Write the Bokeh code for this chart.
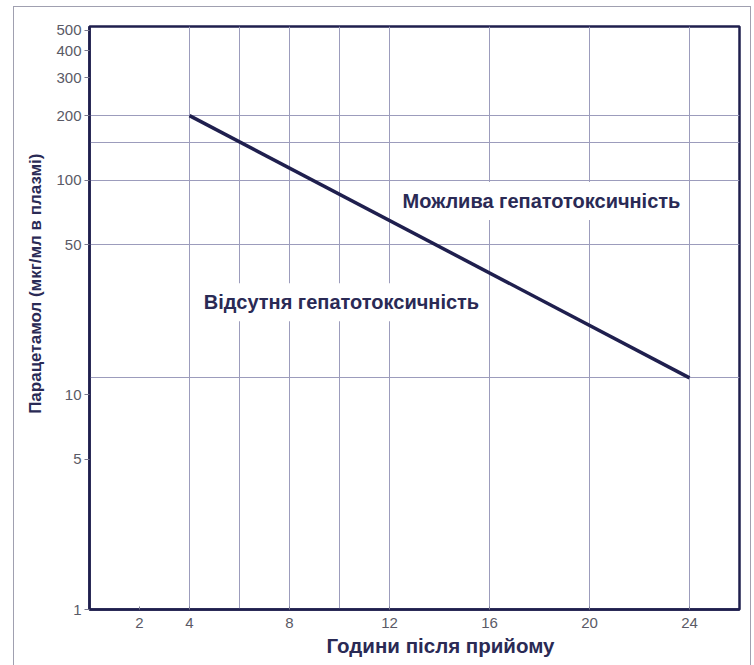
from bokeh.plotting import figure
from bokeh.models import FixedTicker, Label, Range1d, Title
from bokeh.embed import file_html
from bokeh.resources import INLINE

# ---- data ----
hours = [4, 24]                       # line start / end (hours after ingestion)
concentration = [200, 12]             # µg/mL at those times
x_ticks = [2, 4, 8, 12, 16, 20, 24]
y_ticks = [1, 5, 10, 50, 100, 200, 300, 400, 500]
x_grid = [4, 6, 8, 10, 12, 16, 20, 24]
y_grid = [12, 50, 100, 150, 200]
region_labels = ["Можлива гепатотоксичність", "Відсутня гепатотоксичність"]
x_title = "Години після прийому"
y_title = "Парацетамол (мкг/мл в плазмі)"

NAVY = "#1f1f4e"
GRID = "#9c9cbc"
TEXT = "#2a2a55"
TICK_TEXT = "#5a5a66"
FONT = "Liberation Sans"

p = figure(width=738, height=659, y_axis_type="log",
           x_range=Range1d(0, 26), y_range=Range1d(1, 520),
           output_backend="svg", toolbar_location=None,
           min_border_left=75, min_border_right=13,
           min_border_top=19, min_border_bottom=57)
p.styles = {"border-left": "1px solid #a0a0b0",
            "border-top": "1px solid #a0a0b0",
            "border-right": "1px solid #a0a0b0",
            "margin-left": "13px", "margin-top": "6px"}
p.background_fill_color = "white"
p.border_fill_color = "white"
p.outline_line_color = NAVY
p.outline_line_width = 2.5

# grid
p.xgrid.ticker = FixedTicker(ticks=x_grid)
p.ygrid.ticker = FixedTicker(ticks=y_grid)
for g in (p.xgrid, p.ygrid):
    g.grid_line_color = GRID
    g.grid_line_width = 1
    g.grid_line_alpha = 1.0
p.ygrid.minor_grid_line_color = None

# axes
p.xaxis.ticker = FixedTicker(ticks=x_ticks)
p.yaxis.ticker = FixedTicker(ticks=y_ticks, minor_ticks=[])
p.yaxis.major_label_overrides = {v: str(v) for v in y_ticks}
for ax in (p.xaxis, p.yaxis):
    ax.axis_line_color = NAVY
    ax.axis_line_width = 2.5
    ax.major_tick_line_color = "#7a7a90"
    ax.minor_tick_line_color = None
    ax.major_label_text_font = FONT
    ax.major_label_text_font_size = "15px"
    ax.major_label_text_color = TICK_TEXT
p.xaxis.major_tick_in = 3
p.xaxis.major_tick_out = 0
p.xaxis.major_label_standoff = 8
p.yaxis.major_tick_in = 0
p.yaxis.major_tick_out = 5
p.yaxis.major_label_standoff = 3

# x title below, shifted right like the reference
p.add_layout(Title(text=x_title, align="left", offset=237,
                   vertical_align="middle", standoff=4,
                   text_font=FONT, text_font_style="bold",
                   text_font_size="20.5px", text_color=TEXT), "below")

# y title as a left-side title, shifted upward like the reference
p.add_layout(Title(text=y_title, align="right", offset=127,
                   vertical_align="middle", standoff=16,
                   text_font=FONT, text_font_style="bold",
                   text_font_size="17px", text_color=TEXT), "left")

# main nomogram line
p.line(hours, concentration, line_color=NAVY, line_width=3.5)

# region labels with white boxes
label_pos = [(18.08, 80), (10.08, 27)]
for (lx, ly), txt in zip(label_pos, region_labels):
    p.add_layout(Label(x=lx, y=ly, text=txt, text_align="center",
                       text_baseline="middle", text_font=FONT,
                       text_font_style="bold", text_font_size="20px",
                       text_color=TEXT, background_fill_color="white",
                       padding=8))

open("out.html", "w").write(file_html(p, INLINE))
